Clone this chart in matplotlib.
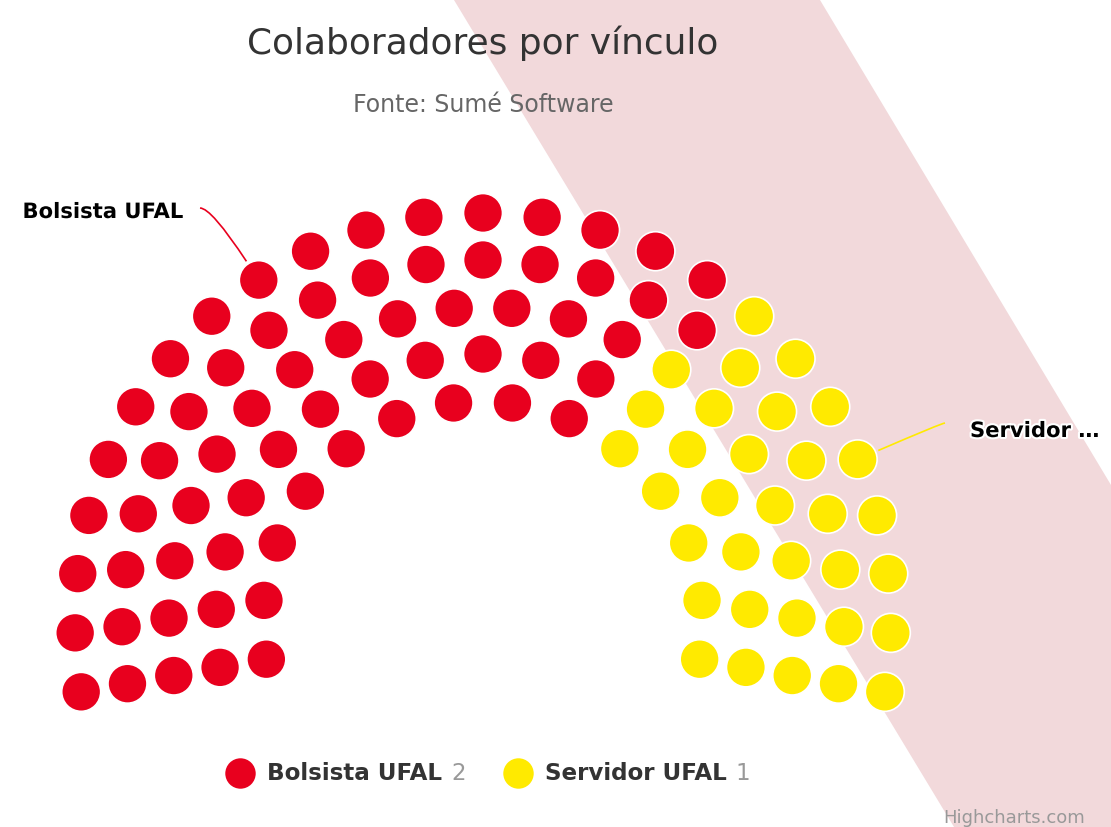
import matplotlib
matplotlib.use("Agg")
import matplotlib.pyplot as plt
import matplotlib.patheffects as pe
import numpy as np
from matplotlib.patches import Circle, Polygon, PathPatch
from matplotlib.path import Path


TITLE = "Colaboradores por vínculo"
SUBTITLE = "Fonte: Sumé Software"
CREDITS = "Highcharts.com"

series_names = ["Bolsista UFAL", "Servidor UFAL"]
label_texts = ["Bolsista UFAL", "Servidor …"]
legend_values = [2, 1]
item_counts = [66, 33]
colors = ["#e8001e", "#ffea00"]
row_slots = [25, 23, 20, 17, 14]  # outer row -> inner row

W, H = 1111, 827
START_ANGLE, END_ANGLE = -100, 100
CX, CY = 483, 621
OUTER_R, ROW_STEP, DOT_R = 408, 47, 19.5


def build_slots():
    slots = []
    for i, n in enumerate(row_slots):
        r = OUTER_R - i * ROW_STEP
        for a in np.linspace(START_ANGLE, END_ANGLE, n):
            slots.append((a, r, i))
    slots.sort(key=lambda s: s[0])
    return slots


def polar(a, r):
    rad = np.radians(a)
    return CX + r * np.sin(rad), CY - r * np.cos(rad)


fig = plt.figure(figsize=(W / 100, H / 100), dpi=100)
ax = fig.add_axes([0, 0, 1, 1])
ax.set_xlim(0, W)
ax.set_ylim(H, 0)
ax.axis("off")

# diagonal pink band in the background
band = Polygon([(454, 0), (820, 0), (W, 485), (W, H), (954, H)],
               closed=True, facecolor="#f2d9db", edgecolor="none", zorder=0)
ax.add_patch(band)

slots = build_slots()
owner = np.repeat(np.arange(len(item_counts)), item_counts)

series_slots = [[] for _ in item_counts]
for (a, r, row), s in zip(slots, owner):
    x, y = polar(a, r)
    ax.add_patch(Circle((x, y), DOT_R, facecolor=colors[s], edgecolor="white",
                        linewidth=1.2, zorder=2))
    series_slots[s].append((a, r, row))

# data labels with connectors
label_pos = [(184, 212, "right"), (970, 431, "left")]
outline = [pe.withStroke(linewidth=3, foreground="white")]
for s, sl in enumerate(series_slots):
    angles = [a for a, r, row in sl]
    mid = (min(angles) + max(angles)) / 2
    outer = [(a, r) for a, r, row in sl if row == 0]
    a, r = min(outer, key=lambda t: abs(t[0] - mid))
    dx, dy = np.sin(np.radians(a)), -np.cos(np.radians(a))
    px, py = polar(a, r)
    sx, sy = px + dx * (DOT_R + 3), py + dy * (DOT_R + 3)
    lx, ly, ha = label_pos[s]
    ex = lx + 16 if ha == "right" else lx - 25
    ey = ly - 4 if ha == "right" else ly - 8
    t = (ey - sy) / dy
    ctrl = (sx + t * dx, sy + t * dy)
    path = Path([(sx, sy), ctrl, (ex, ey)], [Path.MOVETO, Path.CURVE3, Path.CURVE3])
    ax.add_patch(PathPatch(path, facecolor="none", edgecolor=colors[s],
                           linewidth=1.2, zorder=1))
    ax.text(lx, ly, label_texts[s], ha=ha, va="center", fontsize=15.2,
            fontweight="bold", color="black", path_effects=outline, zorder=3)

ax.text(483, 43, TITLE, ha="center", va="center", fontsize=25.8, color="#333333")
ax.text(483, 105, SUBTITLE, ha="center", va="center", fontsize=17, color="#666666")
ax.text(1085, 818, CREDITS, ha="right", va="center", fontsize=13, color="#999999")

# legend
fig.canvas.draw()
renderer = fig.canvas.get_renderer()
x = 228
for s, name in enumerate(series_names):
    ax.scatter([x + 12], [773], s=480, color=colors[s], zorder=3, linewidths=0)
    t1 = ax.text(x + 39, 774, name, ha="left", va="center", fontsize=16.6,
                 fontweight="bold", color="#333333")
    w1 = t1.get_window_extent(renderer).width
    t2 = ax.text(x + 39 + w1 + 9, 774, str(legend_values[s]), ha="left",
                 va="center", fontsize=16.6, color="#999999")
    w2 = t2.get_window_extent(renderer).width
    x = x + 39 + w1 + 9 + w2 + 40

fig.savefig("out.png", dpi=100)
